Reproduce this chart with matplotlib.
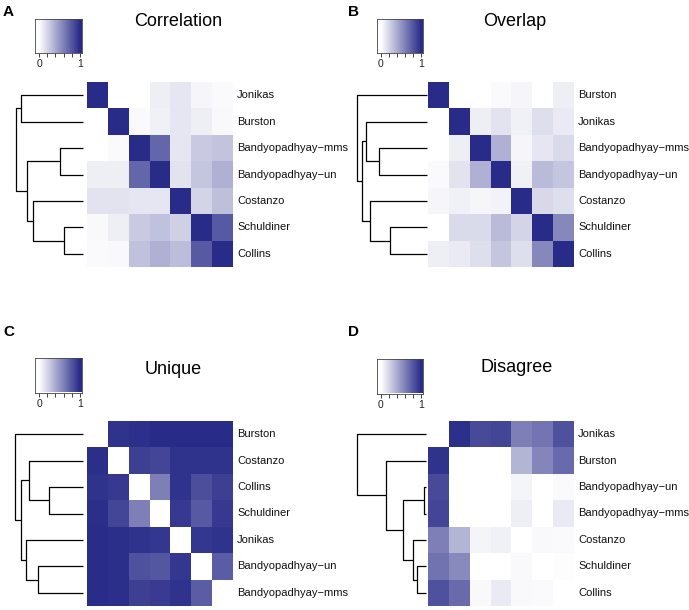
import numpy as np
import matplotlib
matplotlib.use("Agg")
import matplotlib.pyplot as plt
from matplotlib.colors import LinearSegmentedColormap

plt.rcParams["font.family"] = ["Liberation Sans", "DejaVu Sans"]

W, H = 689, 610
NAVY = "#282B88"
CMAP = LinearSegmentedColormap.from_list("wb", ["#FFFFFF", NAVY])

# ---- data ----
titles = ["Correlation", "Overlap", "Unique", "Disagree"]
letters = ["A", "B", "C", "D"]

labels_a = ["Jonikas", "Burston", "Bandyopadhyay−mms", "Bandyopadhyay−un",
            "Costanzo", "Schuldiner", "Collins"]
values_a = [
    [1.00, 0.00, 0.00, 0.08, 0.12, 0.04, 0.02],
    [0.00, 1.00, 0.02, 0.07, 0.12, 0.08, 0.03],
    [0.00, 0.02, 1.00, 0.72, 0.12, 0.25, 0.28],
    [0.08, 0.08, 0.72, 1.00, 0.13, 0.27, 0.37],
    [0.13, 0.13, 0.12, 0.12, 1.00, 0.20, 0.30],
    [0.03, 0.08, 0.25, 0.29, 0.22, 1.00, 0.78],
    [0.02, 0.03, 0.29, 0.37, 0.31, 0.78, 1.00],
]
# merges: (node_i, node_j, height) ; leaves are row indices, new nodes numbered from 7
merges_a = [(5, 6, 0.27), (2, 3, 0.33), (4, 7, 0.72), (8, 9, 0.80),
            (0, 1, 0.88), (11, 10, 0.96)]

labels_b = ["Burston", "Jonikas", "Bandyopadhyay−mms", "Bandyopadhyay−un",
            "Costanzo", "Schuldiner", "Collins"]
values_b = [
    [1.00, 0.00, 0.00, 0.02, 0.04, 0.00, 0.08],
    [0.00, 1.00, 0.08, 0.13, 0.07, 0.15, 0.10],
    [0.00, 0.08, 1.00, 0.37, 0.04, 0.12, 0.17],
    [0.02, 0.13, 0.37, 1.00, 0.07, 0.32, 0.27],
    [0.04, 0.07, 0.04, 0.06, 1.00, 0.18, 0.15],
    [0.00, 0.17, 0.17, 0.32, 0.20, 1.00, 0.56],
    [0.08, 0.10, 0.15, 0.27, 0.15, 0.56, 1.00],
]
merges_b = [(5, 6, 0.52), (2, 3, 0.68), (4, 7, 0.81), (1, 8, 0.86),
            (10, 9, 0.92), (0, 11, 1.00)]

labels_c = ["Burston", "Costanzo", "Collins", "Schuldiner", "Jonikas",
            "Bandyopadhyay−un", "Bandyopadhyay−mms"]
values_c = [
    [0.00, 0.96, 0.97, 1.00, 1.00, 1.00, 1.00],
    [0.98, 0.00, 0.90, 0.87, 0.96, 0.96, 0.96],
    [0.96, 0.93, 0.00, 0.60, 0.96, 0.83, 0.90],
    [0.98, 0.87, 0.60, 0.00, 0.93, 0.78, 0.93],
    [0.99, 0.98, 0.96, 0.94, 0.00, 0.94, 0.96],
    [0.99, 0.98, 0.82, 0.79, 0.94, 0.00, 0.76],
    [0.99, 0.98, 0.90, 0.92, 0.96, 0.76, 0.00],
]
merges_c = [(2, 3, 0.49), (5, 6, 0.65), (1, 7, 0.77), (4, 8, 0.82),
            (9, 10, 0.88), (0, 11, 0.97)]

labels_d = ["Jonikas", "Burston", "Bandyopadhyay−un", "Bandyopadhyay−mms",
            "Costanzo", "Schuldiner", "Collins"]
values_d = [
    [0.00, 0.97, 0.85, 0.87, 0.60, 0.65, 0.82],
    [0.96, 0.00, 0.00, 0.00, 0.35, 0.57, 0.70],
    [0.85, 0.00, 0.00, 0.00, 0.05, 0.00, 0.02],
    [0.87, 0.00, 0.00, 0.00, 0.08, 0.00, 0.10],
    [0.60, 0.35, 0.05, 0.07, 0.00, 0.03, 0.02],
    [0.66, 0.55, 0.00, 0.00, 0.03, 0.00, 0.01],
    [0.82, 0.70, 0.03, 0.10, 0.03, 0.02, 0.00],
]
merges_d = [(2, 3, 0.03), (5, 6, 0.13), (4, 8, 0.19), (7, 9, 0.33),
            (1, 10, 0.57), (0, 11, 0.99)]

cbar_ticks = [0, 0.2, 0.4, 0.6, 0.8, 1.0]


def px_axes(fig, x0, y0, x1, y1):
    """axes from pixel box (top-left origin)"""
    return fig.add_axes([x0 / W, 1 - y1 / H, (x1 - x0) / W, (y1 - y0) / H])


def draw_dendro(ax, merges, n):
    ypos = {i: float(i) for i in range(n)}
    hpos = {i: 0.0 for i in range(n)}
    node = n
    for a, b, h in merges:
        ya, yb = ypos[a], ypos[b]
        ax.plot([hpos[a], h, h, hpos[b]], [ya, ya, yb, yb],
                color="black", lw=0.9, solid_capstyle="butt", clip_on=False)
        ypos[node] = (ya + yb) / 2
        hpos[node] = h
        node += 1
    ax.set_xlim(1.0, 0)
    ax.set_ylim(n - 0.5, -0.5)
    ax.axis("off")


def draw_panel(fig, ox, oy, letter, title, labels, values, merges,
               hm, cb, title_xy, leaf_x):
    fig.text((ox + 3) / W, 1 - (oy + 12) / H, letter, fontsize=11,
             fontweight="bold", va="center", ha="left")

    # colour key
    cax = px_axes(fig, *cb)
    xs = np.linspace(-0.1, 1.04, 256)
    cax.imshow(np.clip(xs, 0, 1)[None, :], cmap=CMAP, vmin=0, vmax=1,
               aspect="auto", extent=(-0.1, 1.04, 0, 1))
    cax.set_xlim(-0.1, 1.04)
    cax.set_yticks([])
    cax.set_xticks(cbar_ticks)
    cax.set_xticklabels(["0", "", "", "", "", "1"])
    cax.tick_params(axis="x", length=3, width=0.6, pad=1.5, labelsize=7.5,
                    colors="#222222")
    for s in cax.spines.values():
        s.set_linewidth(0.6)
        s.set_color("#444444")

    fig.text(title_xy[0] / W, 1 - title_xy[1] / H, title, fontsize=13,
             ha="center", va="center")

    # heatmap
    hax = px_axes(fig, *hm)
    n = len(labels)
    hax.imshow(np.array(values), cmap=CMAP, vmin=0, vmax=1, aspect="auto",
               interpolation="nearest")
    hax.set_xlim(-0.5, n - 0.5)
    hax.set_ylim(n - 0.5, -0.5)
    hax.axis("off")
    for i, lab in enumerate(labels):
        hax.text(n - 0.5 + 4.0 / (hm[2] - hm[0]) * n, i, lab, fontsize=8,
                 ha="left", va="center", color="#111111")

    # dendrogram
    dax = px_axes(fig, leaf_x - 70, hm[1], leaf_x, hm[3])
    draw_dendro(dax, merges, n)


fig = plt.figure(figsize=(W / 100, H / 100), dpi=100)

draw_panel(fig, 0, 0, letters[0], titles[0], labels_a, values_a, merges_a,
           hm=(87, 82, 233, 267), cb=(35, 19, 81.5, 53), title_xy=(178, 22),
           leaf_x=83)
draw_panel(fig, 345, 0, letters[1], titles[1], labels_b, values_b, merges_b,
           hm=(428, 82, 574, 267), cb=(377, 19, 422.5, 53), title_xy=(515, 22),
           leaf_x=426.5)
draw_panel(fig, 0, 320, letters[2], titles[2], labels_c, values_c, merges_c,
           hm=(87, 421, 233, 606), cb=(35, 358, 81.5, 392.5), title_xy=(173, 369),
           leaf_x=83)
draw_panel(fig, 345, 320, letters[3], titles[3], labels_d, values_d, merges_d,
           hm=(428, 421, 574, 606), cb=(377, 359, 422.5, 393.5), title_xy=(517, 367),
           leaf_x=426)

fig.savefig("out.png", dpi=100)
